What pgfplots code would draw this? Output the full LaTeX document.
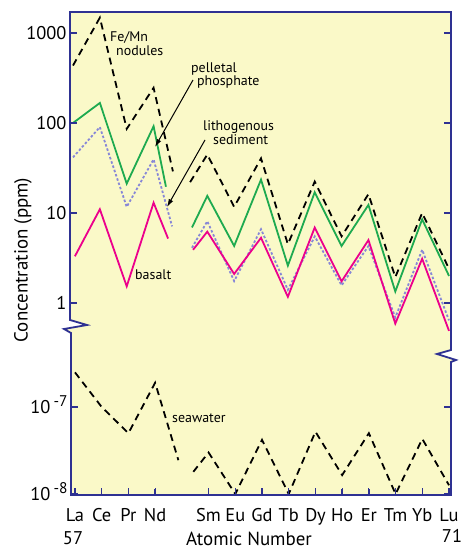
\documentclass[border=0pt]{standalone}
\usepackage{pgfplots}
\pgfplotsset{compat=1.18}
\usepackage{fontspec}
\setmainfont{PT Sans}
\usetikzlibrary{arrows.meta}
\definecolor{bgy}{RGB}{250,249,200}
\definecolor{navy}{RGB}{46,49,146}
\definecolor{grn}{RGB}{30,170,80}
\definecolor{mag}{RGB}{236,0,140}
\definecolor{pur}{RGB}{135,135,215}
\pgfplotsset{
  mybase/.style={
    scale only axis, width=381bp,
    xmin=56.888, xmax=71.074,
    axis line style={draw=navy, line width=1.8bp},
    yminorticks=false, xminorticks=false,
    tick style={draw=navy, line width=1.2bp},
    major tick length=7bp, tick align=inside,
    yticklabel pos=left,
    unbounded coords=jump,
    ticklabel style={font=\fontsize{18.5}{21}\selectfont},
  },
}
\tikzset{
  fem/.style={black, line width=1.8bp, dash pattern=on 7bp off 5bp},
  lit/.style={pur, line width=1.8bp, dash pattern=on 2.5bp off 2bp},
  sol/.style={line width=1.8bp, line join=miter},
  tk/.style={navy, line width=1.3bp},
}
\begin{document}
\begin{tikzpicture}
\useasboundingbox (0,0) rectangle (464bp,549bp);
\fill[bgy] (70bp,537bp) -- (451bp,537bp) -- (451bp,199bp) -- (437bp,195bp) -- (456bp,189bp) -- (451bp,187bp) -- (451bp,54bp) -- (71bp,54bp) -- (71bp,216bp) -- (64bp,220bp) -- (87bp,224bp) -- (70bp,229bp) -- cycle;

\begin{axis}[mybase, ymode=log, at={(70bp,229bp)}, anchor=south west, height=308bp,
  ymin=0.647, ymax=1711, clip=false,
  axis x line=none, axis y line=box,
  ytick={1,10,100,1000}, yticklabels={1,10,100,1000}]
\addplot[fem] coordinates {(57,435) (58,1480) (59,86) (60,246) (60.72,29) (61,nan) (61.36,22) (62,44.6) (63,11.7) (64,40.4) (65,4.5) (66,22.3) (67,5.5) (68,16.2) (69,1.94) (70,10) (71,2.4)};
\addplot[lit] coordinates {(57,41.5) (58,90) (59,11.7) (60,39.4) (60.69,7.1) (61,nan) (61.43,4.1) (62,8.1) (63,1.75) (64,6.6) (65,1.4) (66,5.5) (67,1.57) (68,4.3) (69,0.69) (70,3.9) (71,0.64)};
\addplot[grn, sol] coordinates {(57,100) (58,167) (59,21.2) (60,92) (60.46,19.6) (61,nan) (61.43,6.9) (62,15.5) (63,4.3) (64,23.5) (65,2.6) (66,17) (67,4.3) (68,12.3) (69,1.34) (70,8.5) (71,2.0)};
\addplot[mag, sol] coordinates {(57.07,3.3) (58,11) (59,1.53) (60,13) (60.54,5.2) (61,nan) (61.47,3.9) (62,6.2) (63,2.1) (64,5.3) (65,1.17) (66,6.9) (67,1.74) (68,5.0) (69,0.59) (70,3.1) (71,0.49)};
\end{axis}

\begin{axis}[mybase, ymode=log, at={(71bp,54bp)}, anchor=south west, width=380bp, xmin=56.851, height=133bp,
  ymin=9.74e-9, ymax=3.29e-7,
  axis x line*=bottom, axis y line=box,
  ytick={1e-8,1e-7},
  yticklabels={10\,\raisebox{7bp}{\fontsize{15.5}{15}\selectfont -8}, 10\,\raisebox{7bp}{\fontsize{15.5}{15}\selectfont -7}},
  yticklabel style={text height=12bp, text depth=0bp},
  xtick={57,58,59,60,62,63,64,65,66,67,68,69,70,71},
  xticklabels={La,Ce,Pr,Nd,Sm,Eu,Gd,Tb,Dy,Ho,Er,Tm,Yb,Lu},
  xticklabel style={text height=12bp, text depth=4bp, yshift=-11bp}]
\addplot[fem] coordinates {(57,2.5e-7) (58,1.0e-7) (59,5e-8) (60,1.9e-7) (60.87,2.45e-8) (61,nan) (61.43,1.8e-8) (62,3.0e-8) (63,1e-8) (64,4.2e-8) (65,1e-8) (66,5.2e-8) (67,1.65e-8) (68,5e-8) (69,1e-8) (70,4.3e-8) (71,1.26e-8)};
\end{axis}

\foreach \yy in {246,336,426,516} {
  \draw[tk] (70bp,\yy bp) -- (77bp,\yy bp);
  \draw[tk] (451bp,\yy bp) -- (444bp,\yy bp);
}
\foreach \yy in {55,142} {
  \draw[tk] (71bp,\yy bp) -- (78bp,\yy bp);
  \draw[tk] (451bp,\yy bp) -- (444bp,\yy bp);
}
\foreach \xx in {75.0,101.7,128.4,155.1,208.6,235.3,262.0,288.7,315.4,342.1,368.9,395.6,422.3,449.0} {
  \draw[tk] (\xx bp,54bp) -- (\xx bp,60bp);
}

\draw[navy, line width=1.8bp, line join=miter] (70bp,537bp) -- (451bp,537bp) -- (451bp,199bp) -- (437bp,195bp) -- (456bp,189bp) -- (451bp,187bp) -- (451bp,54bp) -- (71bp,54bp) -- (71bp,216bp) -- (64bp,220bp) -- (87bp,224bp) -- (70bp,229bp) -- cycle;

\begin{scope}[every node/.style={anchor=west, inner sep=0pt, font=\fontsize{14}{16}\selectfont}]
\node at (110bp,511bp) {Fe/Mn};
\node at (116bp,498bp) {nodules};
\node at (191bp,480bp) {pelletal};
\node at (197bp,467bp) {phosphate};
\node at (203bp,422bp) {lithogenous};
\node at (213bp,409bp) {sediment};
\node at (135bp,274bp) {basalt};
\node at (172bp,131bp) {seawater};
\end{scope}
\draw[-{Latex[length=8bp,width=5bp]}, line width=1bp] (193bp,469bp) -- (155bp,402bp);
\draw[-{Latex[length=8bp,width=5bp]}, line width=1bp] (205bp,409bp) -- (167bp,342bp);

\node[font=\fontsize{18.5}{21}\selectfont, inner sep=0pt] at (73bp,11bp) {57};
\node[font=\fontsize{18.5}{21}\selectfont, inner sep=0pt] at (452bp,13bp) {71};
\node[font=\fontsize{19}{21}\selectfont, inner sep=0pt, anchor=base] at (249bp,4bp) {Atomic Number};
\node[font=\fontsize{19}{21}\selectfont, inner sep=0pt, rotate=90] at (23bp,289bp) {Concentration (ppm)};
\end{tikzpicture}
\end{document}
